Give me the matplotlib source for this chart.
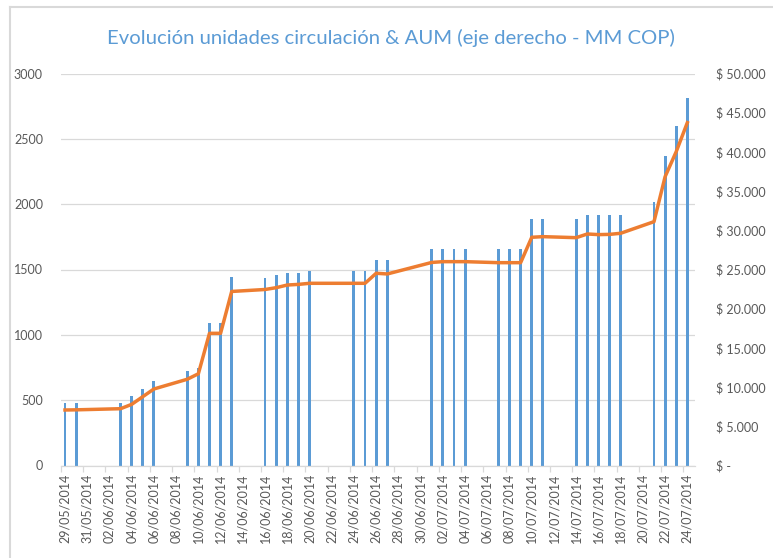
import matplotlib
matplotlib.use('Agg')
import matplotlib.pyplot as plt
import matplotlib.dates as mdates
from matplotlib.lines import Line2D
import pandas as pd

plt.rcParams['font.family'] = ['Lato', 'DejaVu Sans']

# ── datos ─────────────────────────────────────────────
fechas = ['29/05/2014', '30/05/2014', '03/06/2014', '04/06/2014', '05/06/2014',
          '06/06/2014', '09/06/2014', '10/06/2014', '11/06/2014', '12/06/2014',
          '13/06/2014', '16/06/2014', '17/06/2014', '18/06/2014', '19/06/2014',
          '20/06/2014', '24/06/2014', '25/06/2014', '26/06/2014', '27/06/2014',
          '01/07/2014', '02/07/2014', '03/07/2014', '04/07/2014', '07/07/2014',
          '08/07/2014', '09/07/2014', '10/07/2014', '11/07/2014', '14/07/2014',
          '15/07/2014', '16/07/2014', '17/07/2014', '18/07/2014', '21/07/2014',
          '22/07/2014', '23/07/2014', '24/07/2014']
unidades = [475, 475, 475, 530, 584, 647, 723, 745, 1089, 1089,
            1441, 1435, 1455, 1475, 1475, 1485, 1485, 1485, 1575, 1575,
            1660, 1660, 1660, 1660, 1660, 1660, 1660, 1890, 1890, 1890,
            1915, 1915, 1915, 1915, 2015, 2370, 2595, 2815]
aum = [7080, 7100, 7245, 7800, 8780, 9760, 11000, 11700, 16860, 16860,
       22200, 22450, 22680, 23020, 23100, 23240, 23240, 23240, 24520, 24430,
       25900, 26000, 26000, 26000, 25870, 25870, 25870, 29110, 29190, 29060,
       29530, 29450, 29480, 29620, 31100, 36840, 40030, 43730]

y_izq = [0, 500, 1000, 1500, 2000, 2500, 3000]
y_der = [0, 5000, 10000, 15000, 20000, 25000, 30000, 35000, 40000, 45000, 50000]
y_der_etiq = ['$ -', '$ 5.000', '$ 10.000', '$ 15.000', '$ 20.000', '$ 25.000',
              '$ 30.000', '$ 35.000', '$ 40.000', '$ 45.000', '$ 50.000']

titulo = 'Evolución unidades circulación & AUM (eje derecho - MM COP)'

AZUL = '#5B9BD5'
NARANJA = '#ED7D31'
GRIS = '#D9D9D9'
TEXTO = '#595959'

x = pd.to_datetime(fechas, format='%d/%m/%Y')
xn = mdates.date2num(x)

fig = plt.figure(figsize=(7.73, 5.58), dpi=100)
fig.patch.set_facecolor('white')
ax = fig.add_axes([61 / 773, 1 - 465.5 / 558, 634 / 773, 392 / 558])

# barras (unidades)
ax.bar(xn, unidades, width=0.26, color=AZUL, zorder=2)
ax.set_ylim(0, 3000)
ax.set_yticks(y_izq)
ax.set_yticklabels([str(v) for v in y_izq])
ax.grid(axis='y', color=GRIS, lw=0.9, zorder=0)
ax.set_axisbelow(True)

x0, x1 = xn[0] - 0.36, xn[-1] + 0.69
ax.set_xlim(x0, x1)
ticks_lab = [xn[0] + 2 * k for k in range(29)]
ax.set_xticks(ticks_lab)
ax.set_xticklabels([mdates.num2date(t).strftime('%d/%m/%Y') for t in ticks_lab],
                   rotation=90)
ax.set_xticks([t - 0.36 for t in ticks_lab], minor=True)
ax.tick_params(axis='x', which='major', length=0, pad=6, labelsize=9, labelcolor=TEXTO)
ax.tick_params(axis='x', which='minor', length=4, color=GRIS, width=0.9)
ax.tick_params(axis='y', length=0, pad=13, labelsize=9, labelcolor=TEXTO)

for s in ['top', 'left', 'right']:
    ax.spines[s].set_visible(False)
ax.spines['bottom'].set_color(GRIS)
ax.spines['bottom'].set_linewidth(0.9)

# línea (AUM, eje derecho)
ax2 = ax.twinx()
ax2.plot(xn, aum, color=NARANJA, lw=2.5, solid_joinstyle='round', zorder=3)
ax2.set_ylim(0, 50000)
ax2.set_yticks(y_der)
ax2.set_yticklabels(y_der_etiq)
ax2.tick_params(axis='y', length=0, pad=15, labelsize=9, labelcolor=TEXTO)
for s in ['top', 'left', 'right', 'bottom']:
    ax2.spines[s].set_visible(False)

# título
fig.text(391 / 773, 1 - 38 / 558, titulo, ha='center', va='center',
         fontsize=14.6, color=AZUL)

# marco del gráfico
fig.add_artist(Line2D([10 / 773, 10 / 773], [0, 1 - 7 / 558], color=GRIS,
                      lw=1.5, transform=fig.transFigure))
fig.add_artist(Line2D([10 / 773, 1], [1 - 7 / 558, 1 - 7 / 558], color=GRIS,
                      lw=1.5, transform=fig.transFigure))

fig.savefig('out.png', dpi=100, facecolor='white')
